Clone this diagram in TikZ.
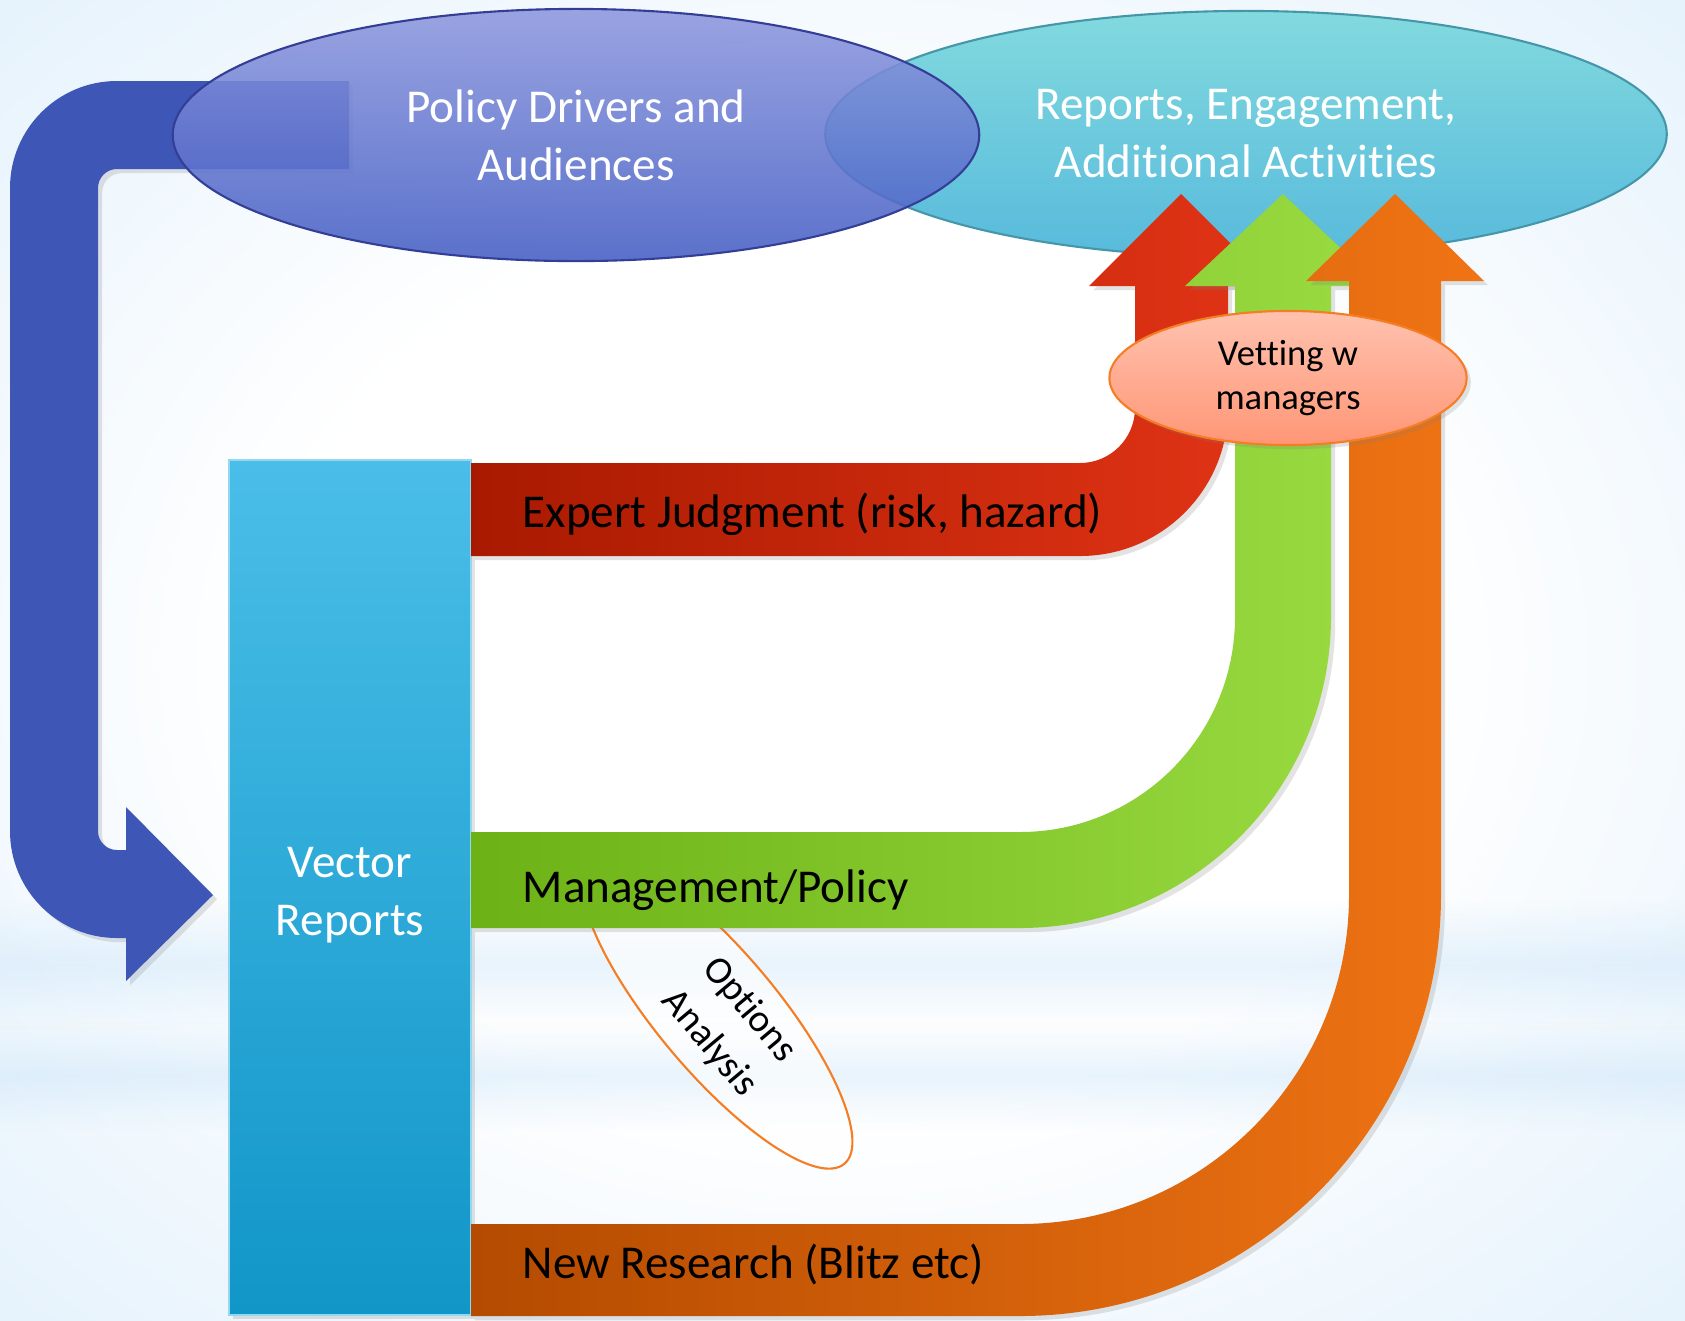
\documentclass[tikz,border=0pt]{standalone}
\usepackage{fontspec}
\setmainfont{Carlito}[Ligatures=CommonOff]
\usepackage{tikz}
\usetikzlibrary{shapes.geometric,shadows,fadings}

\definecolor{bgblue}{RGB}{185,220,247}
\definecolor{loopblue}{RGB}{62,86,182}
\definecolor{drivertop}{RGB}{142,152,222}
\definecolor{driverbot}{RGB}{68,94,196}
\definecolor{driverline}{RGB}{52,62,150}
\definecolor{reporttop}{RGB}{130,218,222}
\definecolor{reportbot}{RGB}{88,186,220}
\definecolor{reportline}{RGB}{70,150,170}
\definecolor{vectop}{RGB}{74,190,232}
\definecolor{vecbot}{RGB}{17,150,200}
\definecolor{expertL}{RGB}{168,26,0}
\definecolor{expertR}{RGB}{226,52,22}
\definecolor{mgmtL}{RGB}{108,178,22}
\definecolor{mgmtR}{RGB}{154,219,66}
\definecolor{researchL}{RGB}{180,75,0}
\definecolor{researchR}{RGB}{240,116,20}
\definecolor{vettop}{RGB}{255,194,175}
\definecolor{vetbot}{RGB}{255,150,118}
\definecolor{ovalline}{RGB}{245,125,35}

\pgfdeclareradialshading{bgglow}{\pgfpoint{0bp}{0bp}}{color(0bp)=(white); color(17bp)=(white); color(40bp)=(bgblue!45!white); color(50bp)=(bgblue!85!white); color(71bp)=(bgblue)}
\tikzfading[name=streakfade, top color=transparent!100, bottom color=transparent!100, middle color=transparent!68]

\begin{document}
\begin{tikzpicture}[x=0.01cm, y=-0.01cm,
  bigtext/.style={font=\fontsize{13.4}{16.5}\selectfont, align=center, text=white},
  bandlabel/.style={font=\fontsize{13.4}{16.5}\selectfont, anchor=base west, inner sep=0pt},
  ovaltext/.style={font=\fontsize{10.4}{12.5}\selectfont, align=center, inner sep=0pt},
  softshadow/.style={drop shadow={shadow xshift=1.2pt, shadow yshift=-1.2pt, opacity=0.22}},
  streak/.style={left color=bgblue, middle color=bgblue!25!white, right color=bgblue, path fading=streakfade}]
  \useasboundingbox (0,0) rectangle (1685,1320);
  \shade[shading=bgglow] (0,0) rectangle (1685,1320);
  \shade[streak] (0,900) rectangle (1685,1030);
  \shade[streak] (0,1020) rectangle (1685,1130);

  % feedback loop
  \fill[loopblue, softshadow] (349,81) -- (117,81)
    arc[start angle=270, end angle=180, radius=107] -- (10,831)
    arc[start angle=180, end angle=90, radius=107] -- (126,938) -- (126,981)
    -- (213,895) -- (126,807) -- (126,850) -- (117,850)
    arc[start angle=90, end angle=180, radius=19] -- (98,188)
    arc[start angle=180, end angle=270, radius=19] -- (349,169) -- cycle;

  \node[ellipse, minimum width=8.41cm, minimum height=2.46cm, inner sep=0pt, top color=reporttop, bottom color=reportbot, draw=reportline, line width=0.6pt, bigtext] (reports) at (1246,134) {Reports, Engagement,\\Additional Activities};
  \node[ellipse, minimum width=8.06cm, minimum height=2.52cm, inner sep=0pt, top color=drivertop, bottom color=driverbot, fill opacity=0.88, text opacity=1, draw=driverline, line width=0.6pt, bigtext] (drivers) at (576,135) {Policy Drivers and\\Audiences};

  % source box
  \shade[top color=vectop, bottom color=vecbot, draw=vectop!60!white, line width=0.5pt, softshadow] (229,460) rectangle (471,1315);
  \node[bigtext] (vector) at (350,895) {Vector\\Reports};

  \node[ellipse, rotate=-50, minimum width=3.96cm, minimum height=1.2cm, fill=white, fill opacity=0.55, text opacity=1, draw=ovalline, line width=0.6pt, ovaltext, font=\fontsize{11}{14.8}\selectfont] (options) at (717,1012) {\hspace*{0.38cm}Options\\\hspace*{0.38cm}Analysis};

  % three streams
  \path[left color=expertL, right color=expertR, softshadow] (471,463) -- (1080,463)
    arc[start angle=90, end angle=0, radius=55] -- (1135,286) -- (1089,286) -- (1181,194)
    -- (1273,286) -- (1228,286) -- (1228,408)
    arc[start angle=0, end angle=90, radius=148] -- (471,556) -- cycle;
  \path[left color=mgmtL, right color=mgmtR, softshadow] (471,832) -- (1020,832)
    arc[start angle=90, end angle=0, radius=215] -- (1235,286) -- (1185,286) -- (1283,194)
    -- (1381,286) -- (1331,286) -- (1331,617)
    arc[start angle=0, end angle=90, radius=311] -- (471,928) -- cycle;
  \path[left color=researchL, right color=researchR, softshadow] (471,1224) -- (1020,1224)
    arc[start angle=90, end angle=0, radius=329] -- (1349,281) -- (1306,281) -- (1395,194)
    -- (1484,281) -- (1441,281) -- (1441,895)
    arc[start angle=0, end angle=90, radius=421] -- (471,1316) -- cycle;

  \node[ellipse, minimum width=3.57cm, minimum height=1.34cm, top color=vettop, bottom color=vetbot, draw=ovalline, line width=0.6pt, softshadow, ovaltext] (vetting) at (1288,378) {Vetting w\\managers};

  \node[bandlabel] (expert) at (522,527) {Expert Judgment (risk, hazard)};
  \node[bandlabel] (mgmt) at (522,902) {Management/Policy};
  \node[bandlabel] (research) at (522,1278) {New Research (Blitz etc)};
\end{tikzpicture}
\end{document}
